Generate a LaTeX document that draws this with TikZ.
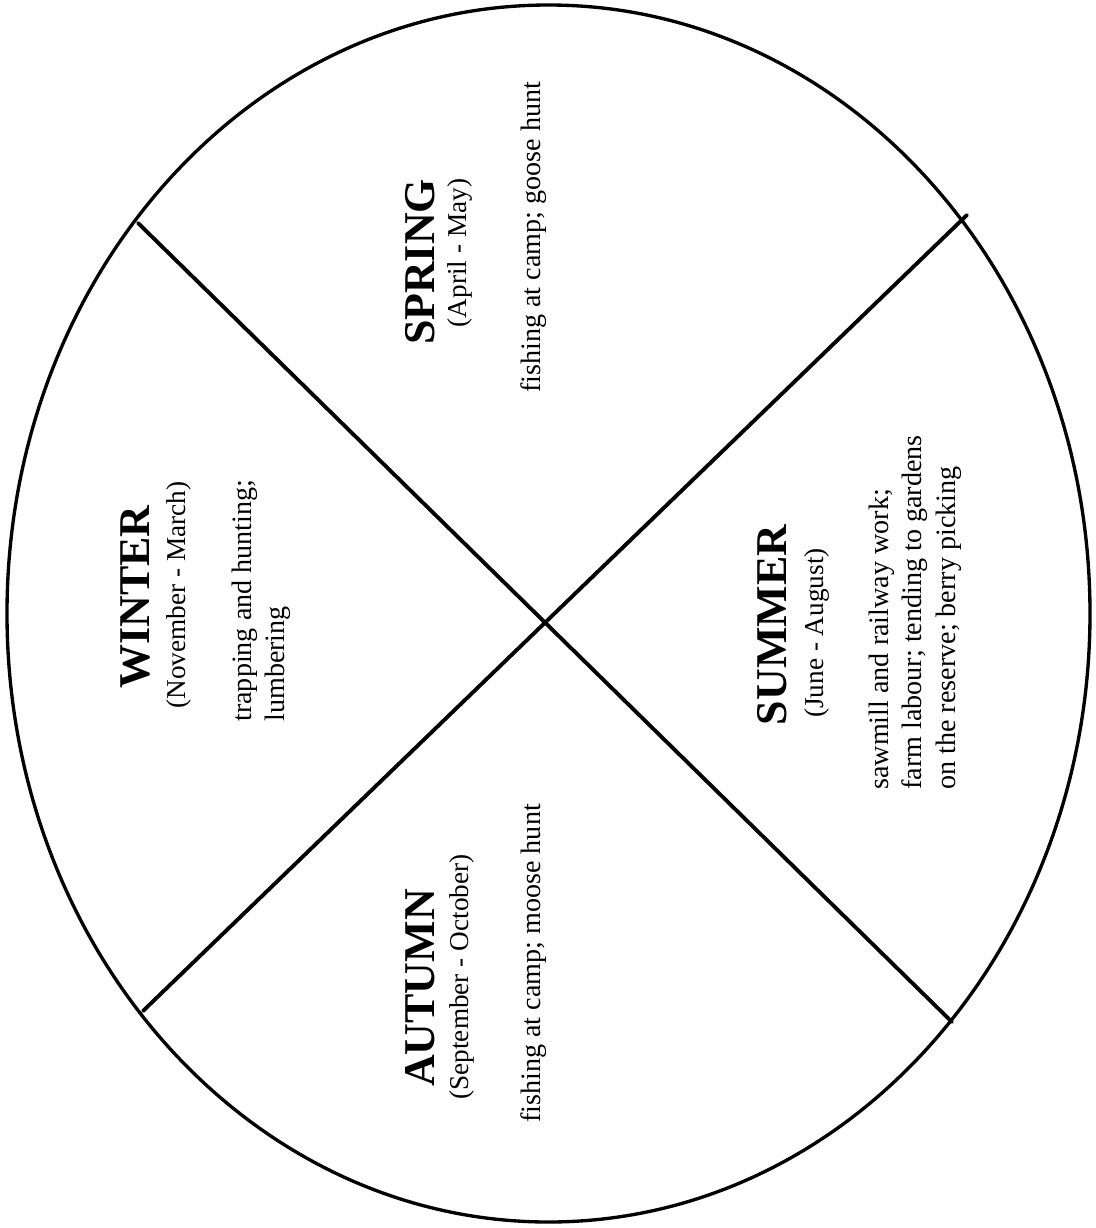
\documentclass[tikz,border=0pt]{standalone}
\usepackage{fontspec}
\setmainfont{Liberation Serif}
\usepackage{tikz}

\tikzset{
    season/.style={rotate=90, inner sep=0pt, font=\fontsize{25}{28}\selectfont\bfseries},
    months/.style={rotate=90, inner sep=0pt, font=\fontsize{15.5}{18}\selectfont},
    work/.style={rotate=90, inner sep=0pt, anchor=west, align=left, font=\fontsize{16}{19}\selectfont},
    rim/.style={line width=1.9pt},
    cut/.style={line width=2.2pt, line cap=round}
}

\begin{document}
\begin{tikzpicture}[x=0.02cm, y=-0.02cm]
        \useasboundingbox (0,0) rectangle (1096,1228);

        %ellipse
        \coordinate (mid) at (548.5,613.5);
        \draw[rim] (mid) ellipse [x radius=541.5, y radius=608.5];

        %ends of the lines
        \coordinate (ul) at (138,223);
        \coordinate (lr) at (952,1022);
        \coordinate (ur) at (967,215);
        \coordinate (ll) at (143,1011);

        %lines
        \path[cut]
            (ul) edge[cut] (lr)
            (ur) edge[cut] (ll);

        %spring
        \node[season] (spring) at (420,262) {SPRING};
        \node[months] (springmonths) at (460,253) {(April - May)};
        \node[work] (springwork) at (534,393) {fishing at camp; goose hunt};

        %summer
        \node[season] (summer) at (772,625) {SUMMER};
        \node[months] (summermonths) at (816.5,633) {(June - August)};
        \node[work] (summerwork) at (915,790) {sawmill and railway work;\\farm labour; tending to gardens\\on the reserve; berry picking};

        %autumn
        \node[season] (autumn) at (420,988) {AUTUMN};
        \node[months] (autumnmonths) at (461.5,977) {(September - October)};
        \node[work] (autumnwork) at (534,1123) {fishing at camp; moose hunt};

        %winter
        \node[season] (winter) at (135,597) {WINTER};
        \node[months] (wintermonths) at (178.5,595) {(November - March)};
        \node[work] (winterwork) at (261.5,722) {trapping and hunting;\\lumbering};

\end{tikzpicture}
\end{document}
